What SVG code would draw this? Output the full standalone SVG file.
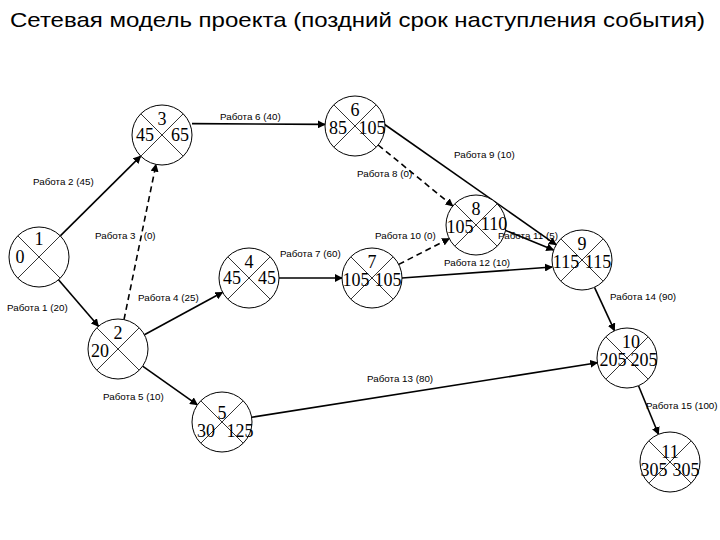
<svg xmlns="http://www.w3.org/2000/svg" width="720" height="540" viewBox="0 0 720 540">
<style>
.n text{font-family:"Liberation Serif",serif;font-size:18px;text-anchor:middle}
.e line{stroke:#000;stroke-width:1.6;marker-end:url(#a)}
.e .d{stroke-dasharray:6 4}
.l{font-family:"Liberation Sans",sans-serif;font-size:9.8px}
</style>
<defs>
<marker id="a" viewBox="0 0 10 10" refX="9" refY="5" markerWidth="5" markerHeight="5" orient="auto"><path d="M0,0L10,5L0,10z"/></marker>
<g id="x" fill="#fff" stroke="#000"><circle r="30" stroke-width="1"/><line x1="-21.2" y1="-21.2" x2="21.2" y2="21.2" stroke-width="0.8"/><line x1="21.2" y1="-21.2" x2="-21.2" y2="21.2" stroke-width="0.8"/></g>
</defs>
<rect width="720" height="540" fill="#fff"/>
<text x="10" y="27" textLength="695" lengthAdjust="spacingAndGlyphs" style="font-family:'Liberation Sans',sans-serif;font-size:21px">Сетевая модель проекта (поздний срок наступления события)</text>
<g class="e">
<line x1="58.5" y1="279.7" x2="98.5" y2="326.3"/>
<line x1="60.3" y1="235.9" x2="140.7" y2="156.1"/>
<line class="d" x1="124" y1="319.6" x2="156" y2="164.4"/>
<line x1="144.4" y1="334.7" x2="222.6" y2="292.3"/>
<line x1="142.6" y1="366.2" x2="197.4" y2="404.8"/>
<line x1="192" y1="123.6" x2="325" y2="124.4"/>
<line x1="279" y1="278" x2="342" y2="278"/>
<line class="d" x1="378.2" y1="145" x2="452.8" y2="206"/>
<line x1="384" y1="124" x2="556.2" y2="244.8"/>
<line class="d" x1="398.7" y1="264.4" x2="449.3" y2="238.6"/>
<line x1="401.9" y1="278" x2="552.1" y2="267"/>
<line x1="504.5" y1="230" x2="553.5" y2="250"/>
<line x1="594.5" y1="287.3" x2="614.5" y2="330.7"/>
<line x1="251.6" y1="417.3" x2="597.4" y2="362.7"/>
<line x1="638.5" y1="385.7" x2="658.5" y2="434.3"/>
</g>
<g id="n1" class="n" transform="translate(39,257)"><use href="#x"/><text x="0" y="-12">1</text><text x="-19" y="6">0</text></g>
<g id="n2" class="n" transform="translate(118,349)"><use href="#x"/><text x="0" y="-10">2</text><text x="-18" y="8">20</text></g>
<g id="n3" class="n" transform="translate(162,135)"><use href="#x"/><text x="0" y="-10">3</text><text x="-17" y="6">45</text><text x="18" y="6">65</text></g>
<g id="n4" class="n" transform="translate(249,278)"><use href="#x"/><text x="0" y="-10">4</text><text x="-17" y="6">45</text><text x="18" y="6">45</text></g>
<g id="n5" class="n" transform="translate(222,422)"><use href="#x"/><text x="0" y="-3">5</text><text x="-16" y="15">30</text><text x="18" y="15">125</text></g>
<g id="n6" class="n" transform="translate(355,126)"><use href="#x"/><text x="0" y="-10">6</text><text x="-17" y="8">85</text><text x="17" y="8">105</text></g>
<g id="n7" class="n" transform="translate(372,278)"><use href="#x"/><text x="0" y="-10">7</text><text x="-16" y="8">105</text><text x="16" y="8">105</text></g>
<g id="n8" class="n" transform="translate(476,225)"><use href="#x"/><text x="0" y="-10">8</text><text x="-16" y="8">105</text><text x="18" y="5">110</text></g>
<g id="n9" class="n" transform="translate(582,260)"><use href="#x"/><text x="0" y="-10">9</text><text x="-16" y="8">115</text><text x="16" y="8">115</text></g>
<g id="n10" class="n" transform="translate(627,358)"><use href="#x"/><text x="4" y="-10">10</text><text x="-14" y="8">205</text><text x="17" y="8">205</text></g>
<g id="n11" class="n" transform="translate(670,462)"><use href="#x"/><text x="0" y="-4">11</text><text x="-16" y="14">305</text><text x="16" y="14">305</text></g>
<g id="labels" class="l">
<text x="220" y="120">Работа 6 (40)</text>
<text x="33" y="185">Работа 2 (45)</text>
<text x="95" y="239" xml:space="preserve">Работа 3   (0)</text>
<text x="7" y="311">Работа 1 (20)</text>
<text x="138" y="301">Работа 4 (25)</text>
<text x="280" y="257">Работа 7 (60)</text>
<text x="357" y="177">Работа 8 (0)</text>
<text x="454" y="158">Работа 9 (10)</text>
<text x="375" y="239">Работа 10 (0)</text>
<text x="498" y="239">Работа 11 (5)</text>
<text x="444" y="266">Работа 12 (10)</text>
<text x="610" y="300">Работа 14 (90)</text>
<text x="367" y="382">Работа 13 (80)</text>
<text x="103" y="400">Работа 5 (10)</text>
<text x="646" y="409">Работа 15 (100)</text>
</g>
</svg>
